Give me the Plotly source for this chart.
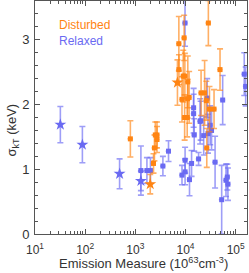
import plotly.graph_objects as go

# Disturbed (orange) squares
dist_em = [28500, 7360, 9380, 7400, 9000, 9700, 11100, 8500, 11000, 11800, 9600, 10800,
           20400, 24000, 48700, 26000, 30000, 37000, 795, 2500, 2700, 2700, 2400, 2300, 26500]
dist_sig = [3.26, 2.94, 3.03, 2.54, 2.44, 2.44, 2.35, 2.08, 2.09, 2.11, 1.80, 1.80,
            2.18, 2.18, 2.54, 2.06, 1.93, 1.93, 1.47, 1.53, 1.53, 1.46, 1.33, 1.09, 1.33]
dist_err = [0.35, 0.42, 0.35, 0.23, 0.40, 0.35, 0.40, 0.35, 0.30, 0.40, 0.35, 0.30,
            0.35, 0.50, 0.32, 0.30, 0.35, 0.30, 0.28, 0.20, 0.20, 0.20, 0.20, 0.15, 0.30]
# Disturbed (orange) stars
dist_star_em = [6900, 1980]
dist_star_sig = [2.34, 0.77]
dist_star_err = [0.35, 0.15]

# Relaxed (blue) squares
rel_em = [9770, 27000, 55000, 148000, 158000, 14500, 14500, 19500, 31000, 14900,
          1290, 1700, 2000, 3540, 4580, 8500, 9800, 9800, 12000, 13200, 18200,
          20000, 23000, 28000, 33000, 38800, 52500, 64000, 68000, 70000]
rel_sig = [3.26, 2.10, 2.07, 2.47, 2.28, 1.95, 1.86, 1.74, 1.68, 1.53,
           0.98, 0.98, 0.98, 1.05, 1.28, 0.91, 0.96, 1.14, 0.84, 1.09, 1.16,
           1.75, 1.52, 1.55, 1.60, 1.11, 0.53, 0.83, 0.88, 0.77]
rel_err = [0.36, 0.30, 0.38, 0.33, 0.30, 0.30, 0.30, 0.35, 0.30, 0.25,
           0.38, 0.20, 0.20, 0.15, 0.16, 0.15, 0.20, 0.20, 0.25, 0.20, 0.10,
           0.30, 0.30, 0.30, 0.30, 0.40, 0.53, 0.25, 0.20, 0.25]
# Relaxed (blue) stars
rel_star_em = [32, 88, 485, 1290]
rel_star_sig = [1.69, 1.38, 0.93, 0.82]
rel_star_err = [0.28, 0.28, 0.23, 0.15]

x_tickvals = [10, 100, 1000, 10000, 100000]
x_ticktext = ["10<sup>1</sup>", "10<sup>2</sup>", "10<sup>3</sup>", "10<sup>4</sup>", "10<sup>5</sup>"]
y_tickvals = [0, 1, 2, 3]

ORANGE = "#FF8412"
ORANGE_E = "rgba(255,132,18,0.65)"
BLUE = "#6A6AF2"
BLUE_E = "rgba(106,106,242,0.65)"
FONT = "Liberation Sans"

fig = go.Figure()

def add(xs, ys, es, color, ecolor, symbol, size):
    fig.add_trace(go.Scatter(
        x=xs, y=ys, mode="markers",
        marker=dict(symbol=symbol, size=size, color=color, line=dict(width=0)),
        error_y=dict(type="data", array=es, visible=True, color=ecolor, thickness=1.6, width=3),
        error_x=dict(type="percent", value=12, visible=True, color=ecolor, thickness=1.6, width=0),
        showlegend=False, cliponaxis=True))

add(rel_em, rel_sig, rel_err, BLUE, BLUE_E, "square", 5)
add(rel_star_em, rel_star_sig, rel_star_err, BLUE, BLUE_E, "star", 9)
add(dist_em, dist_sig, dist_err, ORANGE, ORANGE_E, "square", 5)
add(dist_star_em, dist_star_sig, dist_star_err, ORANGE, ORANGE_E, "star", 9)

minor_x = [m * 10 ** k for k in range(1, 6) for m in range(2, 10)]

fig.update_layout(
    width=249, height=273,
    margin=dict(l=34.5, r=2, t=1, b=39),
    paper_bgcolor="white", plot_bgcolor="white",
    font=dict(family=FONT, size=12, color="#333"),
    xaxis=dict(type="log", range=[1, 5.225], tickvals=x_tickvals, ticktext=x_ticktext,
               ticks="inside", ticklen=5, tickcolor="#555", showline=True, linecolor="#555",
               linewidth=1, mirror="allticks", showgrid=False, zeroline=False,
               ticklabelstandoff=5,
               tickfont=dict(size=12, color="#333"),
               minor=dict(tickvals=minor_x, ticks="inside", ticklen=3, tickcolor="#555", showgrid=False)),
    yaxis=dict(range=[0, 3.6], tickvals=y_tickvals, ticks="inside", ticklen=5, tickcolor="#555",
               showline=True, linecolor="#555", linewidth=1, mirror="allticks",
               showgrid=False, zeroline=False, tickfont=dict(size=13, color="#333"),
               ticklabelstandoff=2,
               minor=dict(dtick=0.2, ticks="inside", ticklen=3, tickcolor="#555", showgrid=False)),
)

fig.add_annotation(text="Emission Measure (10<sup>63</sup>cm<sup>-3</sup>)", xref="paper", yref="paper",
                   x=0.51, y=-0.126, xanchor="center", yanchor="middle", showarrow=False,
                   font=dict(size=13, color="#333"))
fig.add_annotation(text="σ<sub>kT</sub> (keV)", xref="paper", yref="paper",
                   x=-0.106, y=0.446, xanchor="center", yanchor="middle", showarrow=False,
                   textangle=-90, font=dict(size=13, color="#333"))
fig.add_annotation(text="Disturbed", xref="paper", yref="paper", x=0.106, y=0.897,
                   xanchor="left", yanchor="middle", showarrow=False,
                   font=dict(size=12, color=ORANGE))
fig.add_annotation(text="Relaxed", xref="paper", yref="paper", x=0.106, y=0.828,
                   xanchor="left", yanchor="middle", showarrow=False,
                   font=dict(size=12, color=BLUE))

fig.write_html("out.html", config={"displayModeBar": False},
               post_script="document.body.style.margin='0';document.body.style.padding='0';")
